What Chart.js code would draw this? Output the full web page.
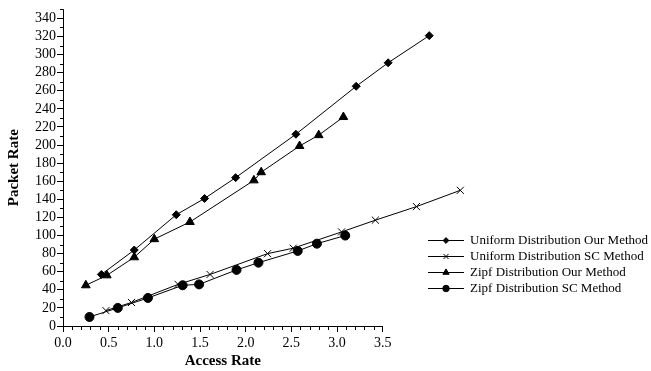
<!DOCTYPE html>
<html>
<head>
<meta charset="utf-8">
<script src="https://cdn.jsdelivr.net/npm/chart.js@4.4.0/dist/chart.umd.min.js"></script>
<style>
html, body { margin: 0; padding: 0; background: #fff; }
#wrap { width: 651px; height: 371px; }
</style>
</head>
<body>
<div id="wrap"><canvas id="chart" width="651" height="371"></canvas></div>
<script>
// series (access rate, packet rate)
var uniformOurX = [0.42, 0.78, 1.24, 1.55, 1.89, 2.55, 3.21, 3.56, 4.01];
var uniformOurY = [57, 84, 123, 141, 164, 212, 265, 291, 321];

var uniformScX = [0.47, 0.75, 1.26, 1.61, 2.24, 2.52, 3.05, 3.42, 3.87, 4.35];
var uniformScY = [17, 26, 46, 57, 80, 86, 104, 117, 132, 150];

var zipfOurX = [0.25, 0.48, 0.78, 1.0, 1.39, 2.09, 2.17, 2.59, 2.8, 3.07];
var zipfOurY = [45, 56, 76, 96, 115, 161, 170, 199, 211, 231];

var zipfScX = [0.29, 0.6, 0.93, 1.31, 1.49, 1.9, 2.14, 2.57, 2.78, 3.09];
var zipfScY = [10, 20, 31, 45, 46, 62, 70, 83, 91, 100];

var seriesNames = [
	"Uniform Distribution Our Method",
	"Uniform Distribution SC Method",
	"Zipf Distribution Our Method",
	"Zipf Distribution SC Method"
];
var seriesMarkers = ["rectRot", "crossRot", "triangle", "circle"];
var seriesRadius = [4, 5, 5, 4.5];

var xTickValues = [0, 0.5, 1, 1.5, 2, 2.5, 3, 3.5];
var yTickValues = [0, 20, 40, 60, 80, 100, 120, 140, 160, 180, 200, 220, 240, 260, 280, 300, 320, 340];

var X_AXIS_END = 3.5;
var Y_AXIS_END = 350;

function pairs(xs, ys) {
	var out = [];
	for (var i = 0; i < xs.length; i++) {
		out.push({ x: xs[i], y: ys[i] });
	}
	return out;
}

function makeSet(idx, xs, ys) {
	return {
		label: seriesNames[idx],
		data: pairs(xs, ys),
		showLine: true,
		borderColor: "#000",
		backgroundColor: "#000",
		borderWidth: 1,
		pointStyle: seriesMarkers[idx],
		pointRadius: seriesRadius[idx],
		pointBackgroundColor: "#000",
		pointBorderColor: "#000",
		pointBorderWidth: 1,
		tension: 0
	};
}

function fixedTicks(values) {
	return function(s) {
		s.ticks = values.map(function(v) { return { value: v }; });
	};
}

var SERIF = '"Liberation Serif", "Times New Roman", serif';

// axis lines, minor ticks, x title and the legend
var extrasPlugin = {
	id: "extras",
	afterDraw: function(chart) {
		var ctx = chart.ctx;
		var xs = chart.scales.x, ys = chart.scales.y;
		var x0 = xs.getPixelForValue(0), y0 = ys.getPixelForValue(0);
		ctx.save();
		ctx.strokeStyle = "#000";
		ctx.lineWidth = 1;
		ctx.beginPath();
		ctx.moveTo(x0 + 0.5, ys.getPixelForValue(Y_AXIS_END));
		ctx.lineTo(x0 + 0.5, y0 + 0.5);
		ctx.lineTo(xs.getPixelForValue(X_AXIS_END), y0 + 0.5);
		ctx.stroke();

		// minor ticks
		ctx.beginPath();
		for (var v = 10; v <= Y_AXIS_END; v += 20) {
			var py = Math.round(ys.getPixelForValue(v)) + 0.5;
			ctx.moveTo(x0 + 0.5, py);
			ctx.lineTo(x0 - 3, py);
		}
		for (var k = 1; k < X_AXIS_END * 10; k++) {
			if (k % 5 === 0) continue;
			var px = Math.round(xs.getPixelForValue(k / 10)) + 0.5;
			ctx.moveTo(px, y0 + 0.5);
			ctx.lineTo(px, y0 + 4);
		}
		ctx.stroke();

		// x axis title, centred under the drawn axis
		ctx.fillStyle = "#000";
		ctx.font = "bold 15px " + SERIF;
		ctx.textAlign = "center";
		ctx.textBaseline = "middle";
		ctx.fillText("Access Rate", (x0 + xs.getPixelForValue(X_AXIS_END)) / 2, 361);

		// legend
		ctx.font = "13px " + SERIF;
		ctx.textAlign = "left";
		for (var i = 0; i < seriesNames.length; i++) {
			var ly = 240 + i * 16;
			ctx.beginPath();
			ctx.moveTo(428, ly + 0.5);
			ctx.lineTo(464, ly + 0.5);
			ctx.stroke();
			Chart.helpers.drawPoint(ctx, {
				pointStyle: seriesMarkers[i],
				radius: seriesRadius[i] * 0.72,
				rotation: 0,
				borderWidth: 1
			}, 446, ly + 0.5);
			ctx.fillText(seriesNames[i], 470, ly + 1);
		}
		ctx.restore();
	}
};

document.addEventListener("DOMContentLoaded", function() {
	Chart.defaults.color = "#000";
	Chart.defaults.font.family = SERIF;

	var ctx = document.getElementById("chart").getContext("2d");
	new Chart(ctx, {
		type: "scatter",
		data: {
			datasets: [
				makeSet(0, uniformOurX, uniformOurY),
				makeSet(1, uniformScX, uniformScY),
				makeSet(2, zipfOurX, zipfOurY),
				makeSet(3, zipfScX, zipfScY)
			]
		},
		options: {
			responsive: false,
			animation: false,
			layout: { padding: { left: 0, top: 7, right: 177, bottom: 0 } },
			plugins: {
				legend: { display: false },
				tooltip: { enabled: false }
			},
			scales: {
				x: {
					type: "linear",
					min: 0,
					max: 4.5,
					border: { display: false },
					grid: {
						drawOnChartArea: false,
						drawTicks: true,
						tickLength: 6,
						tickColor: "#000"
					},
					ticks: {
						autoSkip: false,
						maxRotation: 0,
						padding: 3,
						font: { size: 14 },
						callback: function(v) { return Number(v).toFixed(1); }
					},
					afterBuildTicks: fixedTicks(xTickValues),
					afterFit: function(s) { s.height = 45; }
				},
				y: {
					type: "linear",
					min: 0,
					max: Y_AXIS_END,
					border: { display: false },
					grid: {
						drawOnChartArea: false,
						drawTicks: true,
						tickLength: 6,
						tickColor: "#000"
					},
					ticks: {
						autoSkip: false,
						padding: 1,
						font: { size: 14 },
						callback: function(v) { return String(v); }
					},
					afterBuildTicks: fixedTicks(yTickValues),
					title: {
						display: true,
						text: "Packet Rate",
						font: { size: 15, weight: "bold" },
						padding: { top: 5, bottom: 0 }
					},
					afterFit: function(s) { s.width = 63; }
				}
			}
		},
		plugins: [extrasPlugin]
	});
});
</script>
</body>
</html>
